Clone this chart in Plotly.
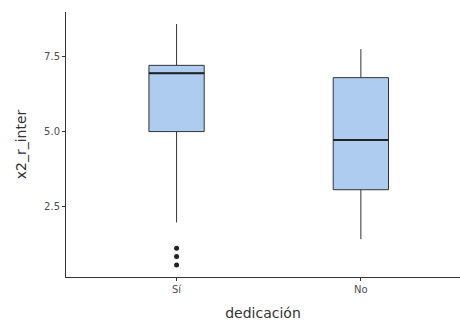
import plotly.graph_objects as go

# Summary statistics per group of "dedicación"
categories = ["Sí", "No"]
q1 = [5.0, 3.06]
median = [6.95, 4.72]
q3 = [7.21, 6.80]
lower_whisker = [1.97, 1.41]
upper_whisker = [8.59, 7.75]
outliers_si = [1.11, 0.83, 0.55]

y_ticks = [2.5, 5.0, 7.5]
y_tick_labels = ["2.5", "5.0", "7.5"]

positions = [1, 2]
half_width = 0.15
fill = "#AECBF0"
edge = "#333333"

fig = go.Figure()

fig.add_trace(go.Box(
    x=positions,
    q1=q1, median=median, q3=q3,
    lowerfence=lower_whisker, upperfence=upper_whisker,
    fillcolor=fill,
    line=dict(color=edge, width=1),
    width=2 * half_width,
    whiskerwidth=0,
    boxpoints=False,
    hoverinfo="skip",
    showlegend=False,
))

# thicker median lines drawn over the boxes
for pos, med in zip(positions, median):
    fig.add_trace(go.Scatter(
        x=[pos - half_width, pos + half_width], y=[med, med],
        mode="lines", line=dict(color="#222222", width=2),
        showlegend=False, hoverinfo="skip",
    ))

# outlying observations of the "Sí" group
fig.add_trace(go.Scatter(
    x=[positions[0]] * len(outliers_si), y=outliers_si,
    mode="markers", marker=dict(color="#222222", size=5),
    showlegend=False, hoverinfo="skip",
))

fig.update_layout(
    width=460, height=322,
    margin=dict(l=66, r=0, t=12, b=45),
    paper_bgcolor="white", plot_bgcolor="white",
    font=dict(family="DejaVu Sans", color="#4D4D4D"),
    xaxis=dict(
        range=[0.4, 2.538],
        tickvals=positions, ticktext=categories,
        showline=True, linecolor="#333333", linewidth=1,
        ticks="outside", ticklen=3, tickcolor="#333333",
        showgrid=False, zeroline=False,
        tickfont=dict(size=10, color="#4D4D4D"),
        title=dict(text="dedicación", font=dict(size=14, color="#333333"), standoff=14),
    ),
    yaxis=dict(
        range=[0.148, 8.99],
        tickvals=y_ticks, ticktext=y_tick_labels,
        showline=True, linecolor="#333333", linewidth=1,
        ticks="outside", ticklen=3, tickcolor="#333333",
        showgrid=False, zeroline=False,
        tickfont=dict(size=10, color="#4D4D4D"),
        title=dict(text="x2_r_inter", font=dict(size=14, color="#333333"), standoff=14),
    ),
)

fig.write_html("out.html")
